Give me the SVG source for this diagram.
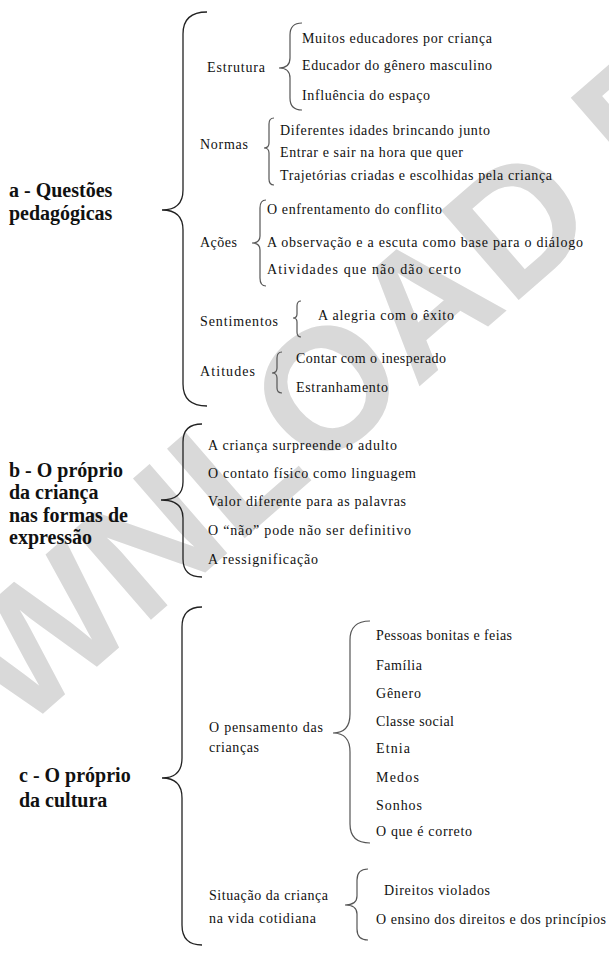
<svg xmlns="http://www.w3.org/2000/svg" width="609" height="954" viewBox="0 0 609 954">
<style>
.wm{font-family:"Liberation Sans",Arial,sans-serif;font-weight:bold;font-size:172px;fill:#d9d9d9}
.h{font-family:"Liberation Serif","DejaVu Serif","Times New Roman",serif;font-weight:bold;font-size:20px;fill:#111}
.t{font-family:"Liberation Serif","DejaVu Serif","Times New Roman",serif;font-size:14px;fill:#111}
.bb{fill:none;stroke:#222;stroke-width:1.3}
.bs{fill:none;stroke:#555;stroke-width:1.2}
</style>
<rect width="609" height="954" fill="#fff"/>
<text class="wm" transform="translate(-175,903) rotate(-41)">DOWNLOAD FREE</text>

<g id="connectors">
<path class="bb" d="M207,12 Q183,12 183,34 L183,190 Q183,210 162,210 Q183,210 183,230 L183,384 Q183,406 207,406"/>
<path class="bs" d="M302,23 Q290,23 290,35 L290,58 Q290,68 279,68 Q290,68 290,78 L290,98 Q290,110 302,110"/>
<path class="bs" d="M274,118 Q269,118 269,124 L269,143 Q269,148 264,148 Q269,148 269,153 L269,179 Q269,185 274,185"/>
<path class="bs" d="M266,200 Q260,200 260,208 L260,236 Q260,243 252,243 Q260,243 260,250 L260,278 Q260,286 266,286"/>
<path class="bs" d="M301,301 Q297,301 297,306 L297,314 Q297,318 293,318 Q297,318 297,322 L297,332 Q297,337 301,337"/>
<path class="bs" d="M282,352 Q277,352 277,358 L277,368 Q277,373 272,373 Q277,373 277,378 L277,388 Q277,393 282,393"/>
<path class="bb" d="M202,424 Q183,424 183,442 L183,482 Q183,500 161,500 Q183,500 183,518 L183,559 Q183,577 202,577"/>
<path class="bb" d="M202,607 Q182,607 182,627 L182,758 Q182,778 162,778 Q182,778 182,798 L182,925 Q182,945 202,945"/>
<path class="bs" d="M370,621 Q350,621 350,640 L350,714 Q350,733 333,733 Q350,733 350,752 L350,824 Q350,843 370,843"/>
<path class="bs" d="M368,869 Q357,869 357,880 L357,896 Q357,905 345,905 Q357,905 357,914 L357,929 Q357,940 368,940"/>
</g>

<g id="a-questoes">
<text class="h" x="9" y="197">a - Questões</text>
<text class="h" x="9" y="220">pedagógicas</text>
</g>
<g id="estrutura">
<text class="t" x="207" y="72" textLength="58" lengthAdjust="spacing">Estrutura</text>
<text class="t" x="302" y="43" textLength="190" lengthAdjust="spacing">Muitos educadores por criança</text>
<text class="t" x="302" y="70" textLength="190" lengthAdjust="spacing">Educador do gênero masculino</text>
<text class="t" x="302" y="100" textLength="128" lengthAdjust="spacing">Influência do espaço</text>
</g>
<g id="normas">
<text class="t" x="200" y="149" textLength="48" lengthAdjust="spacing">Normas</text>
<text class="t" x="280" y="135" textLength="210" lengthAdjust="spacing">Diferentes idades brincando junto</text>
<text class="t" x="280" y="157" textLength="183" lengthAdjust="spacing">Entrar e sair na hora que quer</text>
<text class="t" x="280" y="180" textLength="272" lengthAdjust="spacing">Trajetórias  criadas e escolhidas pela criança</text>
</g>
<g id="acoes">
<text class="t" x="200" y="247" textLength="37" lengthAdjust="spacing">Ações</text>
<text class="t" x="267" y="214" textLength="175" lengthAdjust="spacing">O enfrentamento do conflito</text>
<text class="t" x="267" y="247" textLength="316" lengthAdjust="spacing">A  observação e a escuta como base para o diálogo</text>
<text class="t" x="267" y="274" textLength="194" lengthAdjust="spacing">Atividades que não dão certo</text>
</g>
<g id="sentimentos">
<text class="t" x="200" y="326" textLength="78" lengthAdjust="spacing">Sentimentos</text>
<text class="t" x="318" y="320" textLength="136" lengthAdjust="spacing">A  alegria com o êxito</text>
</g>
<g id="atitudes">
<text class="t" x="200" y="376" textLength="55" lengthAdjust="spacing">Atitudes</text>
<text class="t" x="296" y="363" textLength="150" lengthAdjust="spacing">Contar com o inesperado</text>
<text class="t" x="296" y="392" textLength="92" lengthAdjust="spacing">Estranhamento</text>
</g>

<g id="b-proprio-crianca">
<text class="h" x="9" y="477">b - O próprio</text>
<text class="h" x="9" y="499">da criança</text>
<text class="h" x="9" y="522">nas formas de</text>
<text class="h" x="9" y="544">expressão</text>
<text class="t" x="208" y="450" textLength="189" lengthAdjust="spacing">A criança surpreende o adulto</text>
<text class="t" x="208" y="478" textLength="208" lengthAdjust="spacing">O contato físico como linguagem</text>
<text class="t" x="208" y="506" textLength="198" lengthAdjust="spacing">Valor diferente para as palavras</text>
<text class="t" x="208" y="535" textLength="203" lengthAdjust="spacing">O “não” pode não ser definitivo</text>
<text class="t" x="208" y="564" textLength="110" lengthAdjust="spacing">A ressignificação</text>
</g>

<g id="c-proprio-cultura">
<text class="h" x="19" y="782">c - O próprio</text>
<text class="h" x="19" y="807">da cultura</text>
</g>
<g id="pensamento">
<text class="t" x="209" y="732" textLength="114" lengthAdjust="spacing">O pensamento das</text>
<text class="t" x="209" y="752" textLength="50" lengthAdjust="spacing">crianças</text>
<text class="t" x="376" y="640" textLength="136" lengthAdjust="spacing">Pessoas bonitas e feias</text>
<text class="t" x="376" y="670" textLength="46" lengthAdjust="spacing">Família</text>
<text class="t" x="376" y="698" textLength="45" lengthAdjust="spacing">Gênero</text>
<text class="t" x="376" y="726" textLength="78" lengthAdjust="spacing">Classe social</text>
<text class="t" x="376" y="753" textLength="34" lengthAdjust="spacing">Etnia</text>
<text class="t" x="376" y="782" textLength="43" lengthAdjust="spacing">Medos</text>
<text class="t" x="376" y="810" textLength="46" lengthAdjust="spacing">Sonhos</text>
<text class="t" x="376" y="836" textLength="96" lengthAdjust="spacing">O que é correto</text>
</g>
<g id="situacao">
<text class="t" x="209" y="900" textLength="119" lengthAdjust="spacing">Situação da criança</text>
<text class="t" x="209" y="923" textLength="107" lengthAdjust="spacing">na vida cotidiana</text>
<text class="t" x="384" y="895" textLength="106" lengthAdjust="spacing">Direitos violados</text>
<text class="t" x="376" y="924" textLength="230" lengthAdjust="spacing">O ensino dos direitos e dos princípios</text>
</g>
</svg>
